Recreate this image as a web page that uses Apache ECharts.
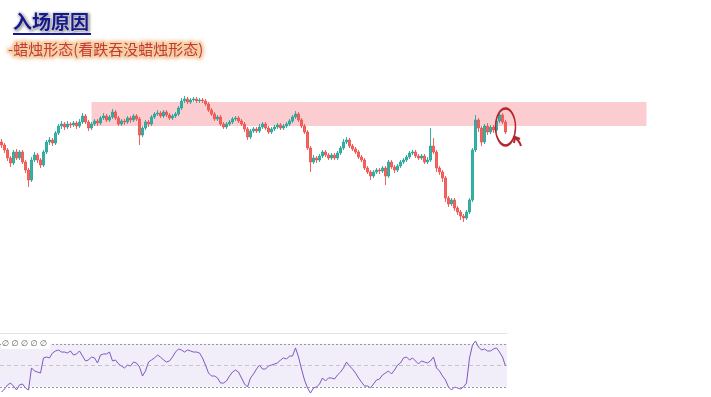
<!DOCTYPE html>
<html>
<head>
<meta charset="utf-8">
<script src="https://cdn.jsdelivr.net/npm/echarts@6/dist/echarts.min.js"></script>
<style>
  html, body { margin: 0; padding: 0; background: #fff; }
  #main { width: 711px; height: 397px; }
</style>
</head>
<body>
<div id="main"></div>
<script>
// candles: [open, close, low, high]
var bars = [
  [258,255,252,261],[255,250,247,257],[250,242,239,252],[242,237,233,244],[237,248,235,250],
  [248,242,240,251],[242,248,240,250],[248,238,236,250],[238,230,227,240],[230,220,213,232],
  [220,240,218,243],[240,245,238,248],[245,240,237,247],[240,235,232,242],[235,248,233,250],
  [248,258,246,260],[258,260,255,263],[260,257,254,262],[257,267,255,269],[267,274,265,276],
  [274,276,271,279],[276,273,270,278],[273,276,271,279],[276,275,272,278],[275,277,273,279],
  [277,274,271,279],[274,278,272,281],[278,284,276,287],[284,278,276,286],[278,272,269,280],
  [272,276,270,278],[276,279,274,281],[279,277,274,281],[277,282,275,284],[282,284,280,287],
  [284,280,278,286],[280,283,278,285],[283,288,281,291],[288,282,280,290],[282,276,274,284],
  [276,279,274,281],[279,278,275,281],[278,282,276,284],[282,280,277,284],[280,284,278,286],
  [284,281,279,286],[281,265,255,283],[265,272,263,274],[272,278,270,280],[278,276,273,280],
  [276,283,274,285],[283,286,281,288],[286,287,284,290],[287,284,282,289],[284,288,282,290],
  [288,285,283,290],[285,282,280,287],[282,284,280,286],[284,286,282,288],[286,292,284,294],
  [292,299,290,302],[299,301,297,304],[301,298,296,303],[298,300,296,302],[300,301,298,303],
  [301,299,297,303],[299,300,297,302],[300,299,297,302],[299,296,294,301],[296,290,288,298],
  [290,286,284,292],[286,281,279,288],[281,283,279,285],[283,276,274,285],[276,273,271,278],
  [273,276,271,278],[276,278,274,280],[278,281,276,283],[281,282,279,284],[282,279,277,284],
  [279,276,274,281],[276,271,268,278],[271,263,260,273],[263,269,261,271],[269,271,267,273],
  [271,269,267,273],[269,273,267,276],[273,276,271,278],[276,272,270,278],[272,268,266,274],
  [268,271,266,273],[271,273,269,275],[273,275,271,277],[275,272,270,277],[272,274,270,276],
  [274,276,272,278],[276,279,274,281],[279,283,277,285],[283,286,281,289],[286,280,278,288],
  [280,274,272,282],[274,268,266,276],[268,252,250,270],[252,238,228,254],[238,242,236,245],
  [242,240,237,244],[240,244,238,246],[244,248,242,250],[248,245,243,250],[245,242,240,247],
  [242,245,240,247],[245,242,240,247],[242,247,240,249],[247,252,245,254],[252,258,250,261],
  [258,260,256,263],[260,254,252,262],[254,251,249,256],[251,248,246,253],[248,243,241,250],
  [243,240,238,245],[240,232,230,242],[232,228,226,234],[228,224,220,230],[224,228,222,230],
  [228,230,226,232],[230,229,226,232],[229,232,227,234],[232,224,215,234],[224,238,222,240],
  [238,233,231,240],[233,230,227,235],[230,234,228,236],[234,238,232,240],[238,240,236,242],
  [240,243,238,245],[243,247,241,249],[247,248,245,250],[248,244,242,250],[244,242,240,246],
  [242,244,240,246],[244,238,236,246],[238,240,236,243],[240,254,238,272],[254,248,246,262],
  [248,232,228,250],[232,228,225,234],[228,222,218,230],[222,202,198,224],[202,196,193,204],
  [196,200,194,202],[200,192,189,202],[192,188,185,194],[188,184,180,190],[184,182,178,186],
  [182,188,180,190],[188,200,186,202],[200,250,198,252],[250,280,248,285],[280,272,268,282],
  [272,258,254,274],[258,274,256,276],[274,268,265,277],[268,273,266,275],[273,270,267,275],
  [270,279,268,281],[279,285,277,288],[285,278,276,287],[278,268,266,280]
];

var rsi = [
  25.1,27.9,31.7,33.5,30.7,27.0,31.7,32.6,28.9,27.0,
  47.5,44.7,43.7,42.8,56.8,57.7,56.8,61.4,63.3,64.2,
  62.3,62.3,61.4,63.3,59.5,60.5,63.3,58.6,54.0,54.9,
  57.7,56.8,52.1,59.5,60.5,60.5,62.3,54.0,54.9,51.2,
  49.3,47.5,50.2,49.3,53.0,52.1,48.4,40.0,44.7,53.0,
  54.9,56.8,59.5,57.7,54.9,53.0,54.0,57.7,62.3,65.1,
  64.2,62.3,64.2,63.3,62.3,62.3,61.4,56.8,50.2,42.8,
  40.0,40.0,38.2,33.5,33.5,35.4,40.0,43.7,45.6,43.7,
  38.2,32.6,29.8,38.2,41.9,46.5,50.2,46.5,46.5,49.3,
  50.2,51.2,52.1,54.9,56.8,55.8,58.6,58.6,66.1,57.7,
  46.5,36.3,28.9,24.2,28.9,29.8,32.6,38.2,35.4,38.2,
  38.2,37.2,41.0,43.7,47.5,53.0,49.3,46.5,42.8,38.2,
  34.4,30.7,30.7,28.9,32.6,36.3,37.2,41.0,42.8,44.7,
  41.9,45.6,50.2,52.1,56.8,57.7,54.9,56.8,54.0,51.2,
  54.0,53.0,52.1,54.0,57.7,47.5,44.7,40.0,36.3,29.8,
  27.0,29.8,28.9,27.9,29.8,33.5,56.8,68.8,72.6,67.0,
  64.2,65.1,63.3,63.3,65.1,66.1,62.3,57.7,49.3
];

var zoneTop = 298;
var zoneBottom = 274;
var rsiLevels = [70, 50, 30];

var candleCats = [];
for (var i = 0; i < 237; i++) candleCats.push(String(i));
var rsiCats = candleCats.slice(0, bars.length);
var lastIdx = String(bars.length - 1);

var myChart = echarts.init(document.getElementById('main'));
var option = {
    animation: false,
    backgroundColor: '#fff',
    title: [
        {
            text: '入场原因',
            left: 13,
            top: 12,
            padding: 0,
            textStyle: {
                fontFamily: 'Noto Sans CJK SC',
                fontSize: 19,
                fontWeight: 'bold',
                color: '#16198a',
                textBorderColor: '#e4e4ee',
                textBorderWidth: 2,
                textShadowColor: 'rgba(0,0,0,0.3)',
                textShadowBlur: 3,
                textShadowOffsetX: 1,
                textShadowOffsetY: 1
            }
        },
        {
            text: '-蜡烛形态(看跌吞没蜡烛形态)',
            left: 8,
            top: 42,
            padding: 0,
            textStyle: {
                fontFamily: 'Noto Sans CJK SC',
                fontSize: 15,
                fontWeight: 'normal',
                color: '#c43a3a',
                textBorderColor: '#f8dcb4',
                textBorderWidth: 3,
                textShadowColor: 'rgba(230,150,80,0.6)',
                textShadowBlur: 4
            }
        }
    ],
    graphic: [
        { type: 'line', z: 100, shape: { x1: 13, y1: 34, x2: 91, y2: 34 }, style: { stroke: '#16198a', lineWidth: 2 } },
        { type: 'text', left: 1, top: 339, z: 20,
          style: { text: '∅ ∅ ∅ ∅ ∅', fill: '#555', font: '8px DejaVu Sans', backgroundColor: '#fff', padding: [1, 3, 1, 1] } },
        { type: 'bezierCurve', shape: { x1: 521, y1: 146, x2: 515, y2: 138, cpx1: 519, cpy1: 140 },
          style: { stroke: '#b3262b', lineWidth: 2, fill: null } },
        { type: 'polyline', shape: { points: [[514, 143], [515, 137], [520, 139]] },
          style: { stroke: '#b3262b', lineWidth: 2, fill: null } }
    ],
    grid: [
        { left: 0, width: 711, top: 80, height: 200 },
        { left: 0, width: 507, top: 333, height: 64 }
    ],
    xAxis: [
        { type: 'category', gridIndex: 0, data: candleCats, show: false },
        { type: 'category', gridIndex: 1, data: rsiCats, position: 'top',
          axisLine: { show: true, lineStyle: { color: '#e0e3eb', width: 1 } },
          axisTick: { show: false }, axisLabel: { show: false }, splitLine: { show: false } }
    ],
    yAxis: [
        { type: 'value', gridIndex: 0, min: 120, max: 320, show: false },
        { type: 'value', gridIndex: 1, min: 20.5, max: 80, show: false }
    ],
    series: [
        {
            type: 'candlestick',
            xAxisIndex: 0,
            yAxisIndex: 0,
            data: bars,
            barWidth: 2,
            itemStyle: {
                color: '#26a69a',
                color0: '#ef5350',
                borderColor: '#26a69a',
                borderColor0: '#ef5350',
                borderWidth: 1,
                opacity: 0.9
            },
            markArea: {
                silent: true,
                itemStyle: { color: 'rgba(242, 54, 69, 0.25)' },
                data: [[{ xAxis: '30', yAxis: zoneTop }, { xAxis: '215', yAxis: zoneBottom }]]
            },
            markPoint: {
                silent: true,
                symbol: 'circle',
                symbolSize: [20, 37],
                label: { show: false },
                itemStyle: { color: 'rgba(0,0,0,0)', borderColor: '#b3262b', borderWidth: 2 },
                data: [{ coord: [lastIdx, 273] }]
            }
        },
        {
            type: 'line',
            xAxisIndex: 1,
            yAxisIndex: 1,
            data: rsi,
            showSymbol: false,
            lineStyle: { color: '#7e57c2', width: 1 },
            markArea: {
                silent: true,
                itemStyle: { color: 'rgba(126, 87, 194, 0.1)' },
                data: [[{ yAxis: rsiLevels[2] }, { yAxis: rsiLevels[0] }]]
            },
            markLine: {
                silent: true,
                symbol: 'none',
                label: { show: false },
                lineStyle: { color: '#9598a1', type: [2, 2], width: 1 },
                data: [
                    { yAxis: rsiLevels[0] },
                    { yAxis: rsiLevels[1], lineStyle: { color: 'rgba(149,152,161,0.5)', type: [4, 3] } },
                    { yAxis: rsiLevels[2] }
                ]
            }
        }
    ]
};

myChart.setOption(option);
</script>
</body>
</html>
